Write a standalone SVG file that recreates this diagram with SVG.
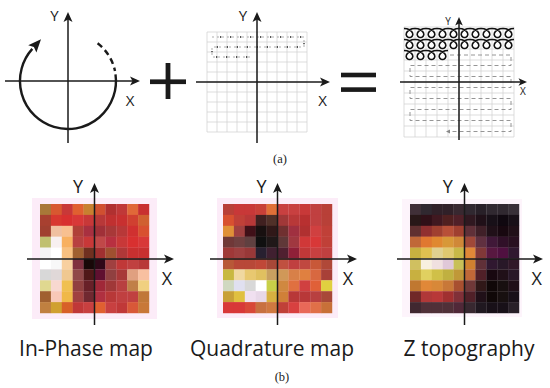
<svg xmlns="http://www.w3.org/2000/svg" xmlns:xlink="http://www.w3.org/1999/xlink" width="550" height="388" viewBox="0 0 550 388">
<style>
.axis{stroke:#1a1a1a;stroke-width:1.5;fill:none}
.axl{font-family:"Open Sans","Liberation Sans",sans-serif;fill:#1a1a1a;text-anchor:middle}
.cap{font-family:"Liberation Serif",serif;font-size:12.5px;fill:#1a1a1a;text-anchor:middle}
.ttl{font-family:"Open Sans","Liberation Sans",sans-serif;font-size:21px;fill:#1a1a1a;text-anchor:middle}
.grid{stroke:#cfcfcf;stroke-width:0.7;fill:none}
.halo{fill:#fcecf8}
</style>
<defs>
<marker id="ah" viewBox="-11 -5 12 10" markerWidth="12" markerHeight="10" refX="-5" refY="0" orient="auto" markerUnits="userSpaceOnUse"><path d="M0,0 L-10,-4.5 L-7.5,0 L-10,4.5 Z" fill="#1a1a1a"/></marker>
<marker id="ahs" viewBox="-10 -5 11 10" markerWidth="11" markerHeight="10" refX="-4" refY="0" orient="auto" markerUnits="userSpaceOnUse"><path d="M0,0 L-8.5,-3.8 L-6.4,0 L-8.5,3.8 Z" fill="#1a1a1a"/></marker>
<marker id="gh" viewBox="-5 -3 6 6" markerWidth="6" markerHeight="6" refX="-2" refY="0" orient="auto" markerUnits="userSpaceOnUse"><path d="M0,0 L-4,-2 L-4,2 Z" fill="#888"/></marker>
<path id="lp" d="M0,-4.52 L2.91,-4.18 5.48,-3.2 7.42,-1.73 8.55,0 8.8,1.73 8.23,3.2 7.03,4.18 5.5,4.52 3.97,4.18 2.77,3.2 2.2,1.73 2.45,0 3.58,-1.73 5.52,-3.2 8.09,-4.18 11,-4.52" fill="none" stroke="#111" stroke-width="1.6" stroke-linejoin="round"/>
</defs>
<rect width="550" height="388" fill="#fff"/>

<!-- (a) panel 1: circular motion -->
<g id="circle-motion">
<line class="axis" x1="68" y1="143" x2="68" y2="17" marker-end="url(#ah)"/>
<line class="axis" x1="5" y1="81" x2="135" y2="81" marker-end="url(#ah)"/>
<path d="M115.5,74.3 A48,48 0 1 1 32.3,48.9" fill="none" stroke="#1a1a1a" stroke-width="2.4"/>
<path d="M41,39.2 L36.4,52.6 L33.9,47.1 L28.2,45.2 Z" fill="#1a1a1a"/>
<path d="M97.6,43.2 A48,48 0 0 1 115,71" fill="none" stroke="#1a1a1a" stroke-width="2.4" stroke-dasharray="6 4"/>
<text class="axl" x="54.5" y="20.7" font-size="15">Y</text>
<text class="axl" x="130" y="106" font-size="15">X</text>
</g>

<g id="plus"><rect x="150" y="79.4" width="36" height="4.7" fill="#1a1a1a"/><rect x="165.6" y="63" width="4.8" height="36" fill="#1a1a1a"/></g>

<!-- (a) panel 2: raster scan -->
<g id="raster-scan">
<path class="grid" d="M207,32V132M217,32V132M227,32V132M237,32V132M247,32V132M257,32V132M267,32V132M277,32V132M287,32V132M297,32V132M307,32V132M207,32H307M207,42H307M207,52H307M207,62H307M207,72H307M207,82H307M207,92H307M207,102H307M207,112H307M207,122H307M207,132H307"/>
<path d="M212,37H304V47H212V57H253" fill="none" stroke="#8a8a8a" stroke-width="0.7" stroke-dasharray="2 3"/>
<path d="M212,37H304V47H212V57H253" fill="none" stroke="#222" stroke-width="1.3" stroke-dasharray="1.3 8.7" stroke-dashoffset="-8"/>
<line class="axis" x1="257" y1="143" x2="257" y2="17" marker-end="url(#ah)"/>
<line class="axis" x1="196" y1="82" x2="325" y2="82" marker-end="url(#ah)"/>
<text class="axl" x="243" y="20.7" font-size="15">Y</text>
<text class="axl" x="322.5" y="106" font-size="15">X</text>
</g>

<g id="equals"><rect x="341" y="72.7" width="35" height="4.6" fill="#1a1a1a"/><rect x="341" y="87.3" width="35" height="4.6" fill="#1a1a1a"/></g>

<!-- (a) panel 3: combined -->
<g id="combined-scan">
<path class="grid" d="M404,27V137M415,27V137M426,27V137M437,27V137M448,27V137M459,27V137M470,27V137M481,27V137M492,27V137M503,27V137M514,27V137M404,27H514M404,38H514M404,49H514M404,60H514M404,71H514M404,82H514M404,93H514M404,104H514M404,115H514M404,126H514M404,137H514"/>
<path d="M450,55H511V65.5H410V76.5H511V87.5H410V98.5H511V109.5H410V120.5H511V131.5H448" fill="none" stroke="#8a8a8a" stroke-width="0.9" stroke-dasharray="4 3" marker-end="url(#gh)"/>
<g>
<use href="#lp" x="404" y="33"/><use href="#lp" x="415" y="33"/><use href="#lp" x="426" y="33"/><use href="#lp" x="437" y="33"/><use href="#lp" x="448" y="33"/><use href="#lp" x="459" y="33"/><use href="#lp" x="470" y="33"/><use href="#lp" x="481" y="33"/><use href="#lp" x="492" y="33"/><use href="#lp" x="503" y="33"/>
<use href="#lp" x="404" y="44"/><use href="#lp" x="415" y="44"/><use href="#lp" x="426" y="44"/><use href="#lp" x="437" y="44"/><use href="#lp" x="448" y="44"/><use href="#lp" x="459" y="44"/><use href="#lp" x="470" y="44"/><use href="#lp" x="481" y="44"/><use href="#lp" x="492" y="44"/><use href="#lp" x="503" y="44"/>
<use href="#lp" x="404" y="55"/><use href="#lp" x="415" y="55"/><use href="#lp" x="426" y="55"/><use href="#lp" x="437" y="55"/>
</g>
<line class="axis" x1="459" y1="140" x2="459" y2="21" marker-end="url(#ahs)"/>
<line class="axis" x1="400" y1="82" x2="523" y2="82" marker-end="url(#ahs)"/>
<text class="axl" x="448" y="25" font-size="10">Y</text>
<text class="axl" x="523" y="95" font-size="10">X</text>
</g>

<text class="cap" x="280" y="163">(a)</text>

<!-- (b) In-Phase map -->
<g id="inphase-map">
<rect class="halo" x="32" y="198" width="125" height="121"/>
<g transform="translate(40,204) scale(10.9)">
<rect x="0" y="0" width="1.02" height="1.02" fill="#a87838"/><rect x="1" y="0" width="1.02" height="1.02" fill="#d85830"/><rect x="2" y="0" width="1.02" height="1.02" fill="#c83838"/><rect x="3" y="0" width="1.02" height="1.02" fill="#e06030"/><rect x="4" y="0" width="1.02" height="1.02" fill="#c88030"/><rect x="5" y="0" width="1.02" height="1.02" fill="#d05030"/><rect x="6" y="0" width="1.02" height="1.02" fill="#b03030"/><rect x="7" y="0" width="1.02" height="1.02" fill="#c03838"/><rect x="8" y="0" width="1.02" height="1.02" fill="#e06838"/><rect x="9" y="0" width="1.02" height="1.02" fill="#c83030"/>
<rect x="0" y="1" width="1.02" height="1.02" fill="#a84030"/><rect x="1" y="1" width="1.02" height="1.02" fill="#d83830"/><rect x="2" y="1" width="1.02" height="1.02" fill="#d83030"/><rect x="3" y="1" width="1.02" height="1.02" fill="#d83838"/><rect x="4" y="1" width="1.02" height="1.02" fill="#c83838"/><rect x="5" y="1" width="1.02" height="1.02" fill="#b83838"/><rect x="6" y="1" width="1.02" height="1.02" fill="#c03030"/><rect x="7" y="1" width="1.02" height="1.02" fill="#c83030"/><rect x="8" y="1" width="1.02" height="1.02" fill="#d04030"/><rect x="9" y="1" width="1.02" height="1.02" fill="#d06030"/>
<rect x="0" y="2" width="1.02" height="1.02" fill="#a04030"/><rect x="1" y="2" width="1.02" height="1.02" fill="#f0c0a0"/><rect x="2" y="2" width="1.02" height="1.02" fill="#f8c090"/><rect x="3" y="2" width="1.02" height="1.02" fill="#b04038"/><rect x="4" y="2" width="1.02" height="1.02" fill="#a83040"/><rect x="5" y="2" width="1.02" height="1.02" fill="#a03038"/><rect x="6" y="2" width="1.02" height="1.02" fill="#a83838"/><rect x="7" y="2" width="1.02" height="1.02" fill="#b83838"/><rect x="8" y="2" width="1.02" height="1.02" fill="#d03030"/><rect x="9" y="2" width="1.02" height="1.02" fill="#d85030"/>
<rect x="0" y="3" width="1.02" height="1.02" fill="#c0c070"/><rect x="1" y="3" width="1.02" height="1.02" fill="#f8f0f0"/><rect x="2" y="3" width="1.02" height="1.02" fill="#f8b060"/><rect x="3" y="3" width="1.02" height="1.02" fill="#b84040"/><rect x="4" y="3" width="1.02" height="1.02" fill="#c83838"/><rect x="5" y="3" width="1.02" height="1.02" fill="#c04848"/><rect x="6" y="3" width="1.02" height="1.02" fill="#b83040"/><rect x="7" y="3" width="1.02" height="1.02" fill="#c83838"/><rect x="8" y="3" width="1.02" height="1.02" fill="#d83030"/><rect x="9" y="3" width="1.02" height="1.02" fill="#d83838"/>
<rect x="0" y="4" width="1.02" height="1.02" fill="#f4f4f4"/><rect x="1" y="4" width="1.02" height="1.02" fill="#ffffff"/><rect x="2" y="4" width="1.02" height="1.02" fill="#f8c080"/><rect x="3" y="4" width="1.02" height="1.02" fill="#a06030"/><rect x="4" y="4" width="1.02" height="1.02" fill="#703020"/><rect x="5" y="4" width="1.02" height="1.02" fill="#a03030"/><rect x="6" y="4" width="1.02" height="1.02" fill="#a05030"/><rect x="7" y="4" width="1.02" height="1.02" fill="#b03838"/><rect x="8" y="4" width="1.02" height="1.02" fill="#c83030"/><rect x="9" y="4" width="1.02" height="1.02" fill="#c83030"/>
<rect x="0" y="5" width="1.02" height="1.02" fill="#ffffff"/><rect x="1" y="5" width="1.02" height="1.02" fill="#f8f8f8"/><rect x="2" y="5" width="1.02" height="1.02" fill="#f8d0a0"/><rect x="3" y="5" width="1.02" height="1.02" fill="#803040"/><rect x="4" y="5" width="1.02" height="1.02" fill="#180808"/><rect x="5" y="5" width="1.02" height="1.02" fill="#300818"/><rect x="6" y="5" width="1.02" height="1.02" fill="#a04040"/><rect x="7" y="5" width="1.02" height="1.02" fill="#c03838"/><rect x="8" y="5" width="1.02" height="1.02" fill="#c04040"/><rect x="9" y="5" width="1.02" height="1.02" fill="#b83838"/>
<rect x="0" y="6" width="1.02" height="1.02" fill="#d8d8d8"/><rect x="1" y="6" width="1.02" height="1.02" fill="#e0d8d8"/><rect x="2" y="6" width="1.02" height="1.02" fill="#f0c890"/><rect x="3" y="6" width="1.02" height="1.02" fill="#904848"/><rect x="4" y="6" width="1.02" height="1.02" fill="#501818"/><rect x="5" y="6" width="1.02" height="1.02" fill="#601030"/><rect x="6" y="6" width="1.02" height="1.02" fill="#904040"/><rect x="7" y="6" width="1.02" height="1.02" fill="#a83838"/><rect x="8" y="6" width="1.02" height="1.02" fill="#e0a080"/><rect x="9" y="6" width="1.02" height="1.02" fill="#f8c0a0"/>
<rect x="0" y="7" width="1.02" height="1.02" fill="#e0d890"/><rect x="1" y="7" width="1.02" height="1.02" fill="#f8d8d0"/><rect x="2" y="7" width="1.02" height="1.02" fill="#f0c050"/><rect x="3" y="7" width="1.02" height="1.02" fill="#904040"/><rect x="4" y="7" width="1.02" height="1.02" fill="#682028"/><rect x="5" y="7" width="1.02" height="1.02" fill="#a02838"/><rect x="6" y="7" width="1.02" height="1.02" fill="#a03838"/><rect x="7" y="7" width="1.02" height="1.02" fill="#b84040"/><rect x="8" y="7" width="1.02" height="1.02" fill="#c08048"/><rect x="9" y="7" width="1.02" height="1.02" fill="#f0d080"/>
<rect x="0" y="8" width="1.02" height="1.02" fill="#a06030"/><rect x="1" y="8" width="1.02" height="1.02" fill="#f8c8b8"/><rect x="2" y="8" width="1.02" height="1.02" fill="#f0b848"/><rect x="3" y="8" width="1.02" height="1.02" fill="#a04040"/><rect x="4" y="8" width="1.02" height="1.02" fill="#702830"/><rect x="5" y="8" width="1.02" height="1.02" fill="#b03040"/><rect x="6" y="8" width="1.02" height="1.02" fill="#b83838"/><rect x="7" y="8" width="1.02" height="1.02" fill="#c04040"/><rect x="8" y="8" width="1.02" height="1.02" fill="#c04040"/><rect x="9" y="8" width="1.02" height="1.02" fill="#c07838"/>
<rect x="0" y="9" width="1.02" height="1.02" fill="#c08040"/><rect x="1" y="9" width="1.02" height="1.02" fill="#d0a030"/><rect x="2" y="9" width="1.02" height="1.02" fill="#d86028"/><rect x="3" y="9" width="1.02" height="1.02" fill="#c03838"/><rect x="4" y="9" width="1.02" height="1.02" fill="#c84040"/><rect x="5" y="9" width="1.02" height="1.02" fill="#e06030"/><rect x="6" y="9" width="1.02" height="1.02" fill="#c84040"/><rect x="7" y="9" width="1.02" height="1.02" fill="#c03838"/><rect x="8" y="9" width="1.02" height="1.02" fill="#d85838"/><rect x="9" y="9" width="1.02" height="1.02" fill="#c87838"/>
</g>
<line class="axis" x1="94.5" y1="325" x2="94.5" y2="188" marker-end="url(#ah)"/>
<line class="axis" x1="27" y1="259" x2="169" y2="259" marker-end="url(#ah)"/>
<text class="axl" x="78" y="192.7" font-size="18">Y</text>
<text class="axl" x="167" y="285" font-size="18">X</text>
<text class="ttl" x="86" y="356">In-Phase map</text>
</g>

<!-- (b) Quadrature map -->
<g id="quadrature-map">
<rect class="halo" x="217" y="198" width="121" height="120"/>
<g transform="translate(223,204) scale(10.9)">
<rect x="0" y="0" width="1.02" height="1.02" fill="#b84038"/><rect x="1" y="0" width="1.02" height="1.02" fill="#c83838"/><rect x="2" y="0" width="1.02" height="1.02" fill="#c83838"/><rect x="3" y="0" width="1.02" height="1.02" fill="#c84038"/><rect x="4" y="0" width="1.02" height="1.02" fill="#e07038"/><rect x="5" y="0" width="1.02" height="1.02" fill="#c84040"/><rect x="6" y="0" width="1.02" height="1.02" fill="#c84040"/><rect x="7" y="0" width="1.02" height="1.02" fill="#c83838"/><rect x="8" y="0" width="1.02" height="1.02" fill="#c04040"/><rect x="9" y="0" width="1.02" height="1.02" fill="#b84038"/>
<rect x="0" y="1" width="1.02" height="1.02" fill="#d85030"/><rect x="1" y="1" width="1.02" height="1.02" fill="#c04038"/><rect x="2" y="1" width="1.02" height="1.02" fill="#b83838"/><rect x="3" y="1" width="1.02" height="1.02" fill="#402020"/><rect x="4" y="1" width="1.02" height="1.02" fill="#503028"/><rect x="5" y="1" width="1.02" height="1.02" fill="#a03838"/><rect x="6" y="1" width="1.02" height="1.02" fill="#b83838"/><rect x="7" y="1" width="1.02" height="1.02" fill="#b83030"/><rect x="8" y="1" width="1.02" height="1.02" fill="#c04040"/><rect x="9" y="1" width="1.02" height="1.02" fill="#b84038"/>
<rect x="0" y="2" width="1.02" height="1.02" fill="#e09038"/><rect x="1" y="2" width="1.02" height="1.02" fill="#a04040"/><rect x="2" y="2" width="1.02" height="1.02" fill="#401018"/><rect x="3" y="2" width="1.02" height="1.02" fill="#181010"/><rect x="4" y="2" width="1.02" height="1.02" fill="#301818"/><rect x="5" y="2" width="1.02" height="1.02" fill="#703030"/><rect x="6" y="2" width="1.02" height="1.02" fill="#a03040"/><rect x="7" y="2" width="1.02" height="1.02" fill="#b03030"/><rect x="8" y="2" width="1.02" height="1.02" fill="#d04040"/><rect x="9" y="2" width="1.02" height="1.02" fill="#c04038"/>
<rect x="0" y="3" width="1.02" height="1.02" fill="#703838"/><rect x="1" y="3" width="1.02" height="1.02" fill="#704040"/><rect x="2" y="3" width="1.02" height="1.02" fill="#604040"/><rect x="3" y="3" width="1.02" height="1.02" fill="#101010"/><rect x="4" y="3" width="1.02" height="1.02" fill="#201818"/><rect x="5" y="3" width="1.02" height="1.02" fill="#603838"/><rect x="6" y="3" width="1.02" height="1.02" fill="#a03840"/><rect x="7" y="3" width="1.02" height="1.02" fill="#d03838"/><rect x="8" y="3" width="1.02" height="1.02" fill="#d83838"/><rect x="9" y="3" width="1.02" height="1.02" fill="#c04038"/>
<rect x="0" y="4" width="1.02" height="1.02" fill="#a03838"/><rect x="1" y="4" width="1.02" height="1.02" fill="#a04040"/><rect x="2" y="4" width="1.02" height="1.02" fill="#983838"/><rect x="3" y="4" width="1.02" height="1.02" fill="#282030"/><rect x="4" y="4" width="1.02" height="1.02" fill="#402030"/><rect x="5" y="4" width="1.02" height="1.02" fill="#502030"/><rect x="6" y="4" width="1.02" height="1.02" fill="#902038"/><rect x="7" y="4" width="1.02" height="1.02" fill="#c03838"/><rect x="8" y="4" width="1.02" height="1.02" fill="#c84040"/><rect x="9" y="4" width="1.02" height="1.02" fill="#c04040"/>
<rect x="0" y="5" width="1.02" height="1.02" fill="#b85838"/><rect x="1" y="5" width="1.02" height="1.02" fill="#b84838"/><rect x="2" y="5" width="1.02" height="1.02" fill="#b84838"/><rect x="3" y="5" width="1.02" height="1.02" fill="#c04838"/><rect x="4" y="5" width="1.02" height="1.02" fill="#a84838"/><rect x="5" y="5" width="1.02" height="1.02" fill="#c05040"/><rect x="6" y="5" width="1.02" height="1.02" fill="#c04040"/><rect x="7" y="5" width="1.02" height="1.02" fill="#c04840"/><rect x="8" y="5" width="1.02" height="1.02" fill="#c85838"/><rect x="9" y="5" width="1.02" height="1.02" fill="#b04838"/>
<rect x="0" y="6" width="1.02" height="1.02" fill="#c8b840"/><rect x="1" y="6" width="1.02" height="1.02" fill="#f0d8a0"/><rect x="2" y="6" width="1.02" height="1.02" fill="#e8c870"/><rect x="3" y="6" width="1.02" height="1.02" fill="#e0c060"/><rect x="4" y="6" width="1.02" height="1.02" fill="#c8a060"/><rect x="5" y="6" width="1.02" height="1.02" fill="#d09858"/><rect x="6" y="6" width="1.02" height="1.02" fill="#d88048"/><rect x="7" y="6" width="1.02" height="1.02" fill="#e08040"/><rect x="8" y="6" width="1.02" height="1.02" fill="#d86840"/><rect x="9" y="6" width="1.02" height="1.02" fill="#a84038"/>
<rect x="0" y="7" width="1.02" height="1.02" fill="#d0d8c0"/><rect x="1" y="7" width="1.02" height="1.02" fill="#e0e0f0"/><rect x="2" y="7" width="1.02" height="1.02" fill="#d8d8d8"/><rect x="3" y="7" width="1.02" height="1.02" fill="#ffffff"/><rect x="4" y="7" width="1.02" height="1.02" fill="#c8d048"/><rect x="5" y="7" width="1.02" height="1.02" fill="#d08840"/><rect x="6" y="7" width="1.02" height="1.02" fill="#e07040"/><rect x="7" y="7" width="1.02" height="1.02" fill="#d04040"/><rect x="8" y="7" width="1.02" height="1.02" fill="#e06038"/><rect x="9" y="7" width="1.02" height="1.02" fill="#e0d040"/>
<rect x="0" y="8" width="1.02" height="1.02" fill="#c8a038"/><rect x="1" y="8" width="1.02" height="1.02" fill="#e0c040"/><rect x="2" y="8" width="1.02" height="1.02" fill="#f0e0f0"/><rect x="3" y="8" width="1.02" height="1.02" fill="#e8d8e8"/><rect x="4" y="8" width="1.02" height="1.02" fill="#d8b040"/><rect x="5" y="8" width="1.02" height="1.02" fill="#d08038"/><rect x="6" y="8" width="1.02" height="1.02" fill="#b83838"/><rect x="7" y="8" width="1.02" height="1.02" fill="#b83838"/><rect x="8" y="8" width="1.02" height="1.02" fill="#b84040"/><rect x="9" y="8" width="1.02" height="1.02" fill="#a84838"/>
<rect x="0" y="9" width="1.02" height="1.02" fill="#d83838"/><rect x="1" y="9" width="1.02" height="1.02" fill="#d83838"/><rect x="2" y="9" width="1.02" height="1.02" fill="#d84838"/><rect x="3" y="9" width="1.02" height="1.02" fill="#c87040"/><rect x="4" y="9" width="1.02" height="1.02" fill="#d07840"/><rect x="5" y="9" width="1.02" height="1.02" fill="#c04038"/><rect x="6" y="9" width="1.02" height="1.02" fill="#d84040"/><rect x="7" y="9" width="1.02" height="1.02" fill="#e86858"/><rect x="8" y="9" width="1.02" height="1.02" fill="#e07048"/><rect x="9" y="9" width="1.02" height="1.02" fill="#c87038"/>
</g>
<line class="axis" x1="277.5" y1="325" x2="277.5" y2="188" marker-end="url(#ah)"/>
<line class="axis" x1="210" y1="259" x2="352" y2="259" marker-end="url(#ah)"/>
<text class="axl" x="261.5" y="192.7" font-size="18">Y</text>
<text class="axl" x="348" y="285" font-size="18">X</text>
<text class="ttl" x="272" y="356">Quadrature map</text>
</g>

<!-- (b) Z topography -->
<g id="z-topography">
<rect class="halo" x="402" y="199" width="120" height="118" fill-opacity="0.6"/>
<g transform="translate(410,204) scale(10.9)">
<rect x="0" y="0" width="1.02" height="1.02" fill="#403038"/><rect x="1" y="0" width="1.02" height="1.02" fill="#302830"/><rect x="2" y="0" width="1.02" height="1.02" fill="#302028"/><rect x="3" y="0" width="1.02" height="1.02" fill="#302028"/><rect x="4" y="0" width="1.02" height="1.02" fill="#382830"/><rect x="5" y="0" width="1.02" height="1.02" fill="#302830"/><rect x="6" y="0" width="1.02" height="1.02" fill="#282028"/><rect x="7" y="0" width="1.02" height="1.02" fill="#302830"/><rect x="8" y="0" width="1.02" height="1.02" fill="#302830"/><rect x="9" y="0" width="1.02" height="1.02" fill="#383038"/>
<rect x="0" y="1" width="1.02" height="1.02" fill="#281818"/><rect x="1" y="1" width="1.02" height="1.02" fill="#301018"/><rect x="2" y="1" width="1.02" height="1.02" fill="#401820"/><rect x="3" y="1" width="1.02" height="1.02" fill="#502020"/><rect x="4" y="1" width="1.02" height="1.02" fill="#502028"/><rect x="5" y="1" width="1.02" height="1.02" fill="#301820"/><rect x="6" y="1" width="1.02" height="1.02" fill="#201018"/><rect x="7" y="1" width="1.02" height="1.02" fill="#181018"/><rect x="8" y="1" width="1.02" height="1.02" fill="#100810"/><rect x="9" y="1" width="1.02" height="1.02" fill="#181018"/>
<rect x="0" y="2" width="1.02" height="1.02" fill="#603030"/><rect x="1" y="2" width="1.02" height="1.02" fill="#903030"/><rect x="2" y="2" width="1.02" height="1.02" fill="#a04030"/><rect x="3" y="2" width="1.02" height="1.02" fill="#b85038"/><rect x="4" y="2" width="1.02" height="1.02" fill="#a04030"/><rect x="5" y="2" width="1.02" height="1.02" fill="#603038"/><rect x="6" y="2" width="1.02" height="1.02" fill="#402028"/><rect x="7" y="2" width="1.02" height="1.02" fill="#201018"/><rect x="8" y="2" width="1.02" height="1.02" fill="#180810"/><rect x="9" y="2" width="1.02" height="1.02" fill="#201018"/>
<rect x="0" y="3" width="1.02" height="1.02" fill="#c06838"/><rect x="1" y="3" width="1.02" height="1.02" fill="#e07830"/><rect x="2" y="3" width="1.02" height="1.02" fill="#e08830"/><rect x="3" y="3" width="1.02" height="1.02" fill="#d89838"/><rect x="4" y="3" width="1.02" height="1.02" fill="#d08838"/><rect x="5" y="3" width="1.02" height="1.02" fill="#a04838"/><rect x="6" y="3" width="1.02" height="1.02" fill="#603040"/><rect x="7" y="3" width="1.02" height="1.02" fill="#401838"/><rect x="8" y="3" width="1.02" height="1.02" fill="#301028"/><rect x="9" y="3" width="1.02" height="1.02" fill="#281020"/>
<rect x="0" y="4" width="1.02" height="1.02" fill="#c8b040"/><rect x="1" y="4" width="1.02" height="1.02" fill="#e0c050"/><rect x="2" y="4" width="1.02" height="1.02" fill="#e0d090"/><rect x="3" y="4" width="1.02" height="1.02" fill="#e0c870"/><rect x="4" y="4" width="1.02" height="1.02" fill="#c8b848"/><rect x="5" y="4" width="1.02" height="1.02" fill="#e08838"/><rect x="6" y="4" width="1.02" height="1.02" fill="#803838"/><rect x="7" y="4" width="1.02" height="1.02" fill="#581840"/><rect x="8" y="4" width="1.02" height="1.02" fill="#501040"/><rect x="9" y="4" width="1.02" height="1.02" fill="#301830"/>
<rect x="0" y="5" width="1.02" height="1.02" fill="#d0c060"/><rect x="1" y="5" width="1.02" height="1.02" fill="#f8f0e0"/><rect x="2" y="5" width="1.02" height="1.02" fill="#f0e0e0"/><rect x="3" y="5" width="1.02" height="1.02" fill="#e0c8d8"/><rect x="4" y="5" width="1.02" height="1.02" fill="#c8c058"/><rect x="5" y="5" width="1.02" height="1.02" fill="#d08030"/><rect x="6" y="5" width="1.02" height="1.02" fill="#603038"/><rect x="7" y="5" width="1.02" height="1.02" fill="#301830"/><rect x="8" y="5" width="1.02" height="1.02" fill="#281828"/><rect x="9" y="5" width="1.02" height="1.02" fill="#301828"/>
<rect x="0" y="6" width="1.02" height="1.02" fill="#c8b040"/><rect x="1" y="6" width="1.02" height="1.02" fill="#e0d060"/><rect x="2" y="6" width="1.02" height="1.02" fill="#d0c048"/><rect x="3" y="6" width="1.02" height="1.02" fill="#c0b040"/><rect x="4" y="6" width="1.02" height="1.02" fill="#c09838"/><rect x="5" y="6" width="1.02" height="1.02" fill="#c06838"/><rect x="6" y="6" width="1.02" height="1.02" fill="#502028"/><rect x="7" y="6" width="1.02" height="1.02" fill="#180810"/><rect x="8" y="6" width="1.02" height="1.02" fill="#201018"/><rect x="9" y="6" width="1.02" height="1.02" fill="#281828"/>
<rect x="0" y="7" width="1.02" height="1.02" fill="#c07830"/><rect x="1" y="7" width="1.02" height="1.02" fill="#e08838"/><rect x="2" y="7" width="1.02" height="1.02" fill="#d88838"/><rect x="3" y="7" width="1.02" height="1.02" fill="#c87838"/><rect x="4" y="7" width="1.02" height="1.02" fill="#a85030"/><rect x="5" y="7" width="1.02" height="1.02" fill="#703838"/><rect x="6" y="7" width="1.02" height="1.02" fill="#301818"/><rect x="7" y="7" width="1.02" height="1.02" fill="#100808"/><rect x="8" y="7" width="1.02" height="1.02" fill="#181010"/><rect x="9" y="7" width="1.02" height="1.02" fill="#201018"/>
<rect x="0" y="8" width="1.02" height="1.02" fill="#702828"/><rect x="1" y="8" width="1.02" height="1.02" fill="#b03838"/><rect x="2" y="8" width="1.02" height="1.02" fill="#b83838"/><rect x="3" y="8" width="1.02" height="1.02" fill="#a03030"/><rect x="4" y="8" width="1.02" height="1.02" fill="#803038"/><rect x="5" y="8" width="1.02" height="1.02" fill="#502028"/><rect x="6" y="8" width="1.02" height="1.02" fill="#201018"/><rect x="7" y="8" width="1.02" height="1.02" fill="#100808"/><rect x="8" y="8" width="1.02" height="1.02" fill="#181010"/><rect x="9" y="8" width="1.02" height="1.02" fill="#181018"/>
<rect x="0" y="9" width="1.02" height="1.02" fill="#402830"/><rect x="1" y="9" width="1.02" height="1.02" fill="#503038"/><rect x="2" y="9" width="1.02" height="1.02" fill="#503038"/><rect x="3" y="9" width="1.02" height="1.02" fill="#503038"/><rect x="4" y="9" width="1.02" height="1.02" fill="#502838"/><rect x="5" y="9" width="1.02" height="1.02" fill="#382830"/><rect x="6" y="9" width="1.02" height="1.02" fill="#201820"/><rect x="7" y="9" width="1.02" height="1.02" fill="#181018"/><rect x="8" y="9" width="1.02" height="1.02" fill="#181018"/><rect x="9" y="9" width="1.02" height="1.02" fill="#282028"/>
</g>
<line class="axis" x1="464.5" y1="325" x2="464.5" y2="188" marker-end="url(#ah)"/>
<line class="axis" x1="397" y1="259" x2="538" y2="259" marker-end="url(#ah)"/>
<text class="axl" x="447.7" y="192.7" font-size="18">Y</text>
<text class="axl" x="536.7" y="285" font-size="18">X</text>
<text class="ttl" x="469" y="356">Z topography</text>
</g>

<text class="cap" x="282" y="381">(b)</text>
</svg>
